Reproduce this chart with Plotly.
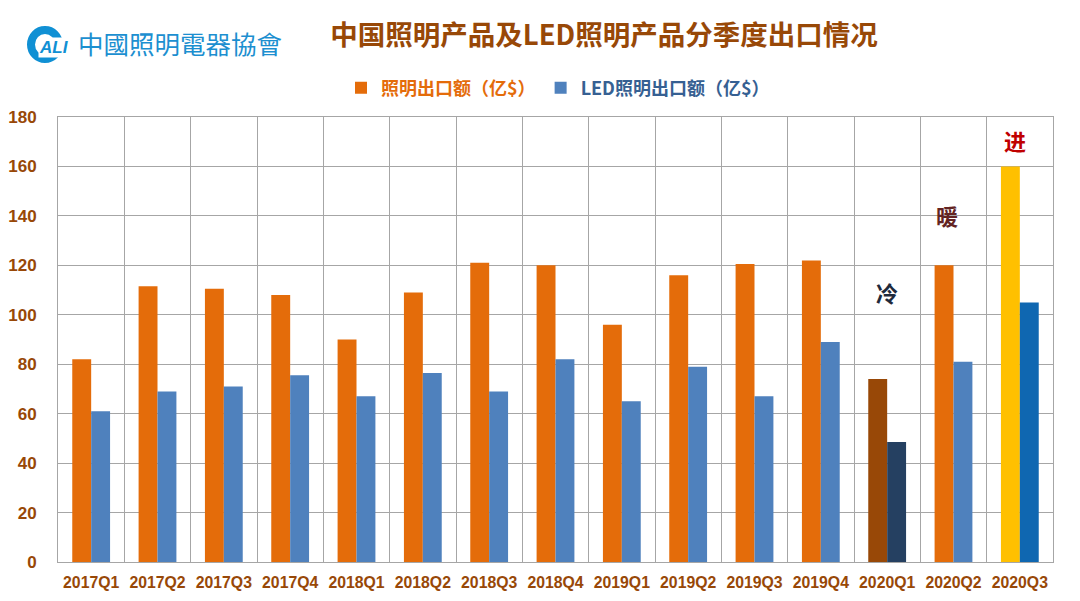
#!/usr/bin/env python3
# -*- coding: utf-8 -*-
# China lighting exports by quarter
import plotly.graph_objects as go

quarters = ['2017Q1', '2017Q2', '2017Q3', '2017Q4', '2018Q1', '2018Q2', '2018Q3', '2018Q4',
            '2019Q1', '2019Q2', '2019Q3', '2019Q4', '2020Q1', '2020Q2', '2020Q3']
lighting = [82, 111.5, 110.5, 108, 90, 109, 121, 120, 96, 116, 120.5, 122, 74, 120, 160]
led = [61, 69, 71, 75.5, 67, 76.5, 69, 82, 65, 79, 67, 89, 48.5, 81, 105]

lighting_colors = ['#E46C0A'] * 12 + ['#984807', '#E46C0A', '#FFC000']
led_colors = ['#4F81BD'] * 12 + ['#254061', '#4F81BD', '#0F67B1']

BROWN = '#984807'
CJK = 'Noto Sans CJK SC'

fig = go.Figure()
fig.add_bar(x=quarters, y=lighting, marker_color=lighting_colors, marker_line_width=0,
            name='<span style="color:#E46C0A">照明出口额（亿$）</span>')
fig.add_bar(x=quarters, y=led, marker_color=led_colors, marker_line_width=0,
            name='<span style="color:#366092">LED照明出口额（亿$）</span>')

# page body adds 8px around the figure, so size is 1064x585
fig.update_layout(
    width=1064, height=585,
    margin=dict(l=50, r=19, t=109, b=31, autoexpand=False),
    paper_bgcolor='white', plot_bgcolor='white',
    barmode='group', bargap=0.43, bargroupgap=0,
    showlegend=True,
    legend=dict(orientation='h', x=550 / 1064, xref='container', xanchor='center', y=0.863, yref='container', yanchor='middle',
                font=dict(family=CJK, size=18, color=BROWN, weight='bold'), itemwidth=30),
    title=dict(text='<b>中国照明产品及LED照明产品分季度出口情况</b>', x=596 / 1064, xanchor='center',
               y=0.954, yanchor='middle', font=dict(family=CJK, size=27.5, color=BROWN)),
)
fig.update_xaxes(tickson='boundaries', showgrid=True, gridcolor='#A6A6A6', gridwidth=1,
                 showline=True, linecolor='#A6A6A6', mirror=True, ticks='', automargin=False,
                 ticklabelstandoff=6,
                 tickfont=dict(family='Liberation Sans', size=15.8, color=BROWN, weight='bold'), tickangle=0)
fig.update_yaxes(range=[0, 180], dtick=20, showgrid=True, gridcolor='#A6A6A6', gridwidth=1,
                 showline=True, linecolor='#A6A6A6', mirror=True, ticks='', zeroline=False,
                 ticklabelstandoff=17, automargin=False,
                 tickfont=dict(family='Liberation Sans', size=17, color=BROWN, weight='bold'))

# remarks over the last quarters
for q, y, txt, col, dx in [('2020Q1', 109.2, '冷', '#1F2A3C', 0),
                           ('2020Q2', 140.2, '暖', '#632423', -7),
                           ('2020Q3', 170.7, '进', '#C00000', -5)]:
    fig.add_annotation(x=q, y=y, text='<b>' + txt + '</b>', showarrow=False, xshift=dx,
                       font=dict(family=CJK, size=22, color=col))

# logo, ring + name
fig.add_shape(type='circle', xref='paper', yref='paper', x0=-27 / 995, x1=1 / 995,
              y0=1 + (117 - 59) / 445, y1=1 + (117 - 30) / 445,
              line=dict(color='#1090D4', width=8), fillcolor='white')
fig.add_annotation(xref='paper', yref='paper', x=-4 / 995, y=1 + (117 - 47) / 445, text='<b><i>ALI</i></b>',
                   showarrow=False, bgcolor='white', borderpad=0, xanchor='center', yanchor='middle',
                   font=dict(family='Liberation Sans', size=17, color='#1090D4'))
fig.add_annotation(xref='paper', yref='paper', x=122 / 995, y=1 + (117 - 42) / 445, text='中國照明電器協會',
                   showarrow=False, xanchor='center', yanchor='middle',
                   font=dict(family='Noto Sans CJK TC', size=25.5, color='#1C8FD0'))

fig.write_html("out.html")
